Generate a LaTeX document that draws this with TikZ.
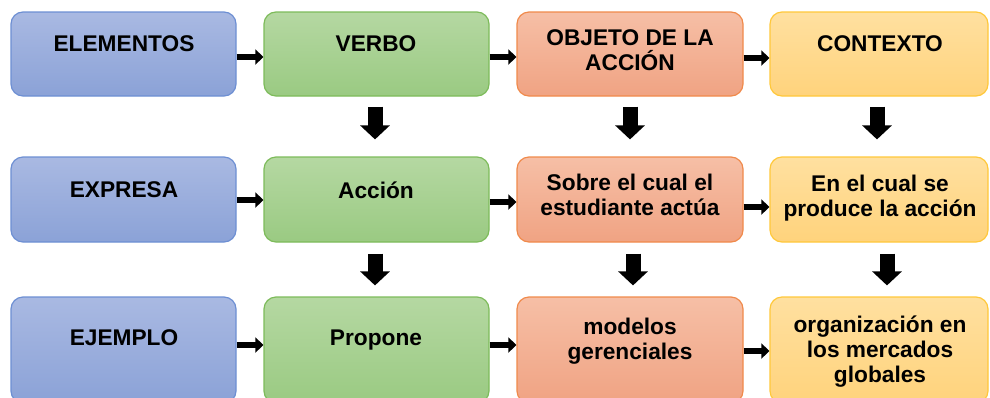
\documentclass[tikz,border=0pt]{standalone}
\usepackage{fontspec}
\setmainfont{Liberation Sans}
\usetikzlibrary{arrows.meta,calc}
\definecolor{bluetop}{HTML}{A9B9E2}
\definecolor{bluebot}{HTML}{8BA2D7}
\definecolor{blueln}{HTML}{6D8FD3}
\definecolor{greentop}{HTML}{B5D8A2}
\definecolor{greenbot}{HTML}{9ACA82}
\definecolor{greenln}{HTML}{7DBB5A}
\definecolor{orangetop}{HTML}{F6BFA6}
\definecolor{orangebot}{HTML}{F0A383}
\definecolor{orangeln}{HTML}{F08A4B}
\definecolor{yellowtop}{HTML}{FFE0A0}
\definecolor{yellowbot}{HTML}{FFD37C}
\definecolor{yellowln}{HTML}{FFC83A}
\begin{document}
\begin{tikzpicture}[x=1pt,y=-1pt,
  boxbase/.style={rectangle,rounded corners=12pt,line width=1.2pt,inner sep=0pt},
  bluebox/.style={boxbase,draw=blueln,top color=bluetop,bottom color=bluebot},
  greenbox/.style={boxbase,draw=greenln,top color=greentop,bottom color=greenbot},
  orangebox/.style={boxbase,draw=orangeln,top color=orangetop,bottom color=orangebot},
  yellowbox/.style={boxbase,draw=yellowln,top color=yellowtop,bottom color=yellowbot},
  txt/.style={align=center,font=\fontsize{22.7}{25}\selectfont\bfseries,inner sep=0pt,text depth=0pt},
  harr/.style={line width=6pt,-{Triangle[length=8pt,width=15pt]}},
  varr/.style={line width=15pt,line cap=butt,-{Triangle[length=14pt,width=29pt]}}
]
\useasboundingbox (0,0) rectangle (990,397);
\clip (0,0) rectangle (990,397);
% row 1
\node[bluebox,minimum width=225pt,minimum height=84pt] (b11) at (123.5,54) {};
\node[greenbox,minimum width=225pt,minimum height=84pt] (b12) at (376.5,54) {};
\node[orangebox,minimum width=226pt,minimum height=84pt] (b13) at (630,54) {};
\node[yellowbox,minimum width=218pt,minimum height=84pt] (b14) at (879,54) {};
% row 2
\node[bluebox,minimum width=225pt,minimum height=85pt] (b21) at (123.5,199.5) {};
\node[greenbox,minimum width=225pt,minimum height=85pt] (b22) at (376.5,199.5) {};
\node[orangebox,minimum width=226pt,minimum height=85pt] (b23) at (630,199.5) {};
\node[yellowbox,minimum width=218pt,minimum height=85pt] (b24) at (879,199.5) {};
% row 3
\node[bluebox,minimum width=225pt,minimum height=106pt] (b31) at (123.5,350) {};
\node[greenbox,minimum width=225pt,minimum height=106pt] (b32) at (376.5,350) {};
\node[orangebox,minimum width=226pt,minimum height=106pt] (b33) at (630,350) {};
\node[yellowbox,minimum width=218pt,minimum height=106pt] (b34) at (879,350) {};
% texts
\node[txt] (t11) at (124,44) {ELEMENTOS};
\node[txt] (t12) at (376,44) {VERBO};
\node[txt] (t13) at (630,50.5) {OBJETO DE LA\\ACCIÓN};
\node[txt] (t14) at (880,44) {CONTEXTO};
\node[txt] (t21) at (124,190) {EXPRESA};
\node[txt] (t22) at (376,190) {Acción};
\node[txt] (t23) at (630,195) {Sobre el cual el\\estudiante actúa};
\node[txt] (t24) at (880,195.5) {En el cual se\\produce la acción};
\node[txt] (t31) at (124,338) {EJEMPLO};
\node[txt] (t32) at (376,338) {Propone};
\node[txt] (t33) at (630,338.5) {modelos\\gerenciales};
\node[txt] (t34) at (880,349.5) {organización en\\los mercados\\globales};
% horizontal arrows
\draw[harr] ($(b11.east)+(0,3)$) -- ($(b12.west)+(0,3)$);
\draw[harr] ($(b12.east)+(0,3)$) -- ($(b13.west)+(0,3)$);
\draw[harr] ($(b13.east)+(0,4)$) -- ($(b14.west)+(0,4)$);
\draw[harr] ($(b21.east)+(0,0.5)$) -- ($(b22.west)+(0,0.5)$);
\draw[harr] ($(b22.east)+(0,2.5)$) -- ($(b23.west)+(0,2.5)$);
\draw[harr] ($(b23.east)+(0,7.5)$) -- ($(b24.west)+(0,7.5)$);
\draw[harr] ($(b31.east)+(0,-5)$) -- ($(b32.west)+(0,-5)$);
\draw[harr] ($(b32.east)+(0,-5)$) -- ($(b33.west)+(0,-5)$);
\draw[harr] ($(b33.east)+(0,1)$) -- ($(b34.west)+(0,1)$);
% vertical arrows
\draw[varr] ($(b12.south)+(-1.5,10)$) -- ($(b22.north)+(-1.5,-17)$);
\draw[varr] ($(b13.south)+(0,10)$) -- ($(b23.north)+(0,-17)$);
\draw[varr] ($(b14.south)+(-2,10)$) -- ($(b24.north)+(-2,-17)$);
\draw[varr] ($(b22.south)+(-1.5,11)$) -- ($(b32.north)+(-1.5,-11)$);
\draw[varr] ($(b23.south)+(3,11)$) -- ($(b33.north)+(3,-11)$);
\draw[varr] ($(b24.south)+(8,11)$) -- ($(b34.north)+(8,-11)$);
\end{tikzpicture}
\end{document}
